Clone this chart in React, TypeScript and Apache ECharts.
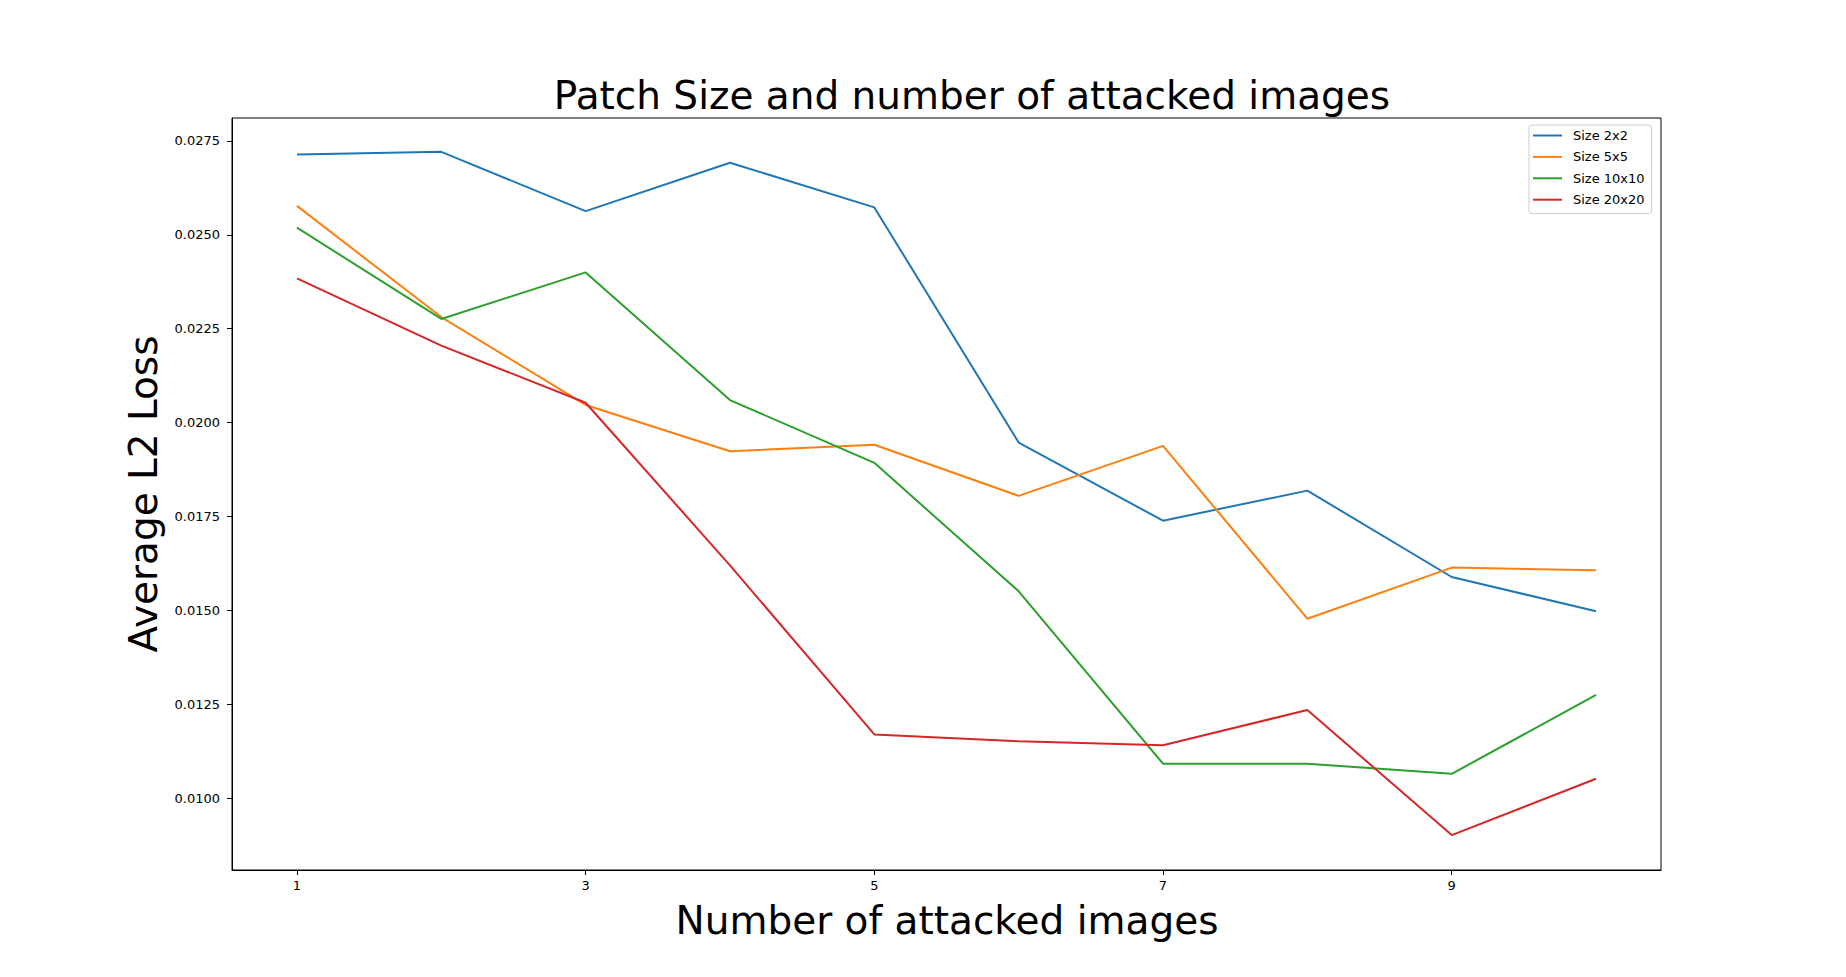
import React, { useEffect, useRef } from "react";
import * as echarts from "echarts";

const xValues = [1, 2, 3, 4, 5, 6, 7, 8, 9, 10];
const xTicks = [1, 3, 5, 7, 9];
const yTicks = [0.01, 0.0125, 0.015, 0.0175, 0.02, 0.0225, 0.025, 0.0275];

const seriesNames = ["Size 2x2", "Size 5x5", "Size 10x10", "Size 20x20"];
const size2x2 = [0.02714, 0.02721, 0.02563, 0.02692, 0.02573, 0.01947, 0.01739, 0.01819, 0.01589, 0.01498];
const size5x5 = [0.02577, 0.02281, 0.02047, 0.01924, 0.01941, 0.01805, 0.01938, 0.01478, 0.01614, 0.01607];
const size10x10 = [0.02519, 0.02276, 0.024, 0.0206, 0.01893, 0.01551, 0.01092, 0.01092, 0.01065, 0.01275];
const size20x20 = [0.02384, 0.02205, 0.02053, 0.0162, 0.0117, 0.01152, 0.01141, 0.01235, 0.00902, 0.01052];
const colors = ["#1f77b4", "#ff7f0e", "#2ca02c", "#d62728"];

const titleText = "Patch Size and number of attacked images";
const xLabel = "Number of attacked images";
const yLabel = "Average L2 Loss";

const FONT = "DejaVu Sans";

export default function App() {
  const ref = useRef<HTMLDivElement>(null);
  useEffect(() => {
    if (!ref.current) return;
    const chart = echarts.init(ref.current, undefined, { renderer: "svg" });
    const all = [size2x2, size5x5, size10x10, size20x20];
    const option: any = {
      animation: false,
      backgroundColor: "#ffffff",
      textStyle: { fontFamily: FONT },
      grid: {
        left: 232,
        right: 185,
        top: 118,
        bottom: 107,
        show: true,
        borderColor: "#000000",
        borderWidth: 1,
        backgroundColor: "transparent",
      },
      legend: {
        data: seriesNames,
        orient: "vertical",
        left: 1529,
        top: 125,
        icon: "rect",
        itemWidth: 29,
        itemHeight: 2,
        itemGap: 8.4,
        padding: [4, 7, 7.5, 4],
        backgroundColor: "rgba(255,255,255,0.8)",
        borderColor: "#cccccc",
        borderWidth: 1,
        borderRadius: 3,
        textStyle: { fontFamily: FONT, fontSize: 13, color: "#000000", padding: [0, 0, 0, 6] },
      },
      xAxis: {
        type: "value",
        min: 0.55,
        max: 10.45,
        splitLine: { show: false },
        axisLine: { show: true, onZero: false, lineStyle: { color: "#000000", width: 1 } },
        axisTick: { show: true, customValues: xTicks, length: 5, lineStyle: { color: "#000000" } },
        axisLabel: {
          customValues: xTicks,
          margin: 9,
          fontFamily: FONT,
          fontSize: 13,
          color: "#000000",
          formatter: (v: number) => String(v),
        },
      },
      yAxis: {
        type: "value",
        min: 0.00809,
        max: 0.02811,
        splitLine: { show: false },
        axisLine: { show: true, onZero: false, lineStyle: { color: "#000000", width: 1 } },
        axisTick: { show: true, customValues: yTicks, length: 5, lineStyle: { color: "#000000" } },
        axisLabel: {
          customValues: yTicks,
          margin: 12,
          fontFamily: FONT,
          fontSize: 13,
          color: "#000000",
          formatter: (v: number) => v.toFixed(4),
        },
      },
      series: seriesNames.map((name, i) => ({
        name,
        type: "line",
        data: xValues.map((x, j) => [x, all[i][j]]),
        showSymbol: false,
        symbol: "none",
        lineStyle: { color: colors[i], width: 2 },
        itemStyle: { color: colors[i] },
      })),
      graphic: [
        {
          type: "text",
          x: 972,
          y: 95,
          style: {
            text: titleText,
            fontFamily: FONT,
            fontSize: 39,
            fill: "#000000",
            align: "center",
            verticalAlign: "middle",
          },
        },
        {
          type: "text",
          x: 947,
          y: 920,
          style: {
            text: xLabel,
            fontFamily: FONT,
            fontSize: 39,
            fill: "#000000",
            align: "center",
            verticalAlign: "middle",
          },
        },
        {
          type: "text",
          x: 143,
          y: 494,
          rotation: Math.PI / 2,
          style: {
            text: yLabel,
            fontFamily: FONT,
            fontSize: 39,
            fill: "#000000",
            align: "center",
            verticalAlign: "middle",
          },
        },
      ],
    };
    chart.setOption(option);
    return () => chart.dispose();
  }, []);
  return (
    <div
      ref={ref}
      style={{ position: "absolute", left: 0, top: 0, width: 1846, height: 977 }}
    />
  );
}
